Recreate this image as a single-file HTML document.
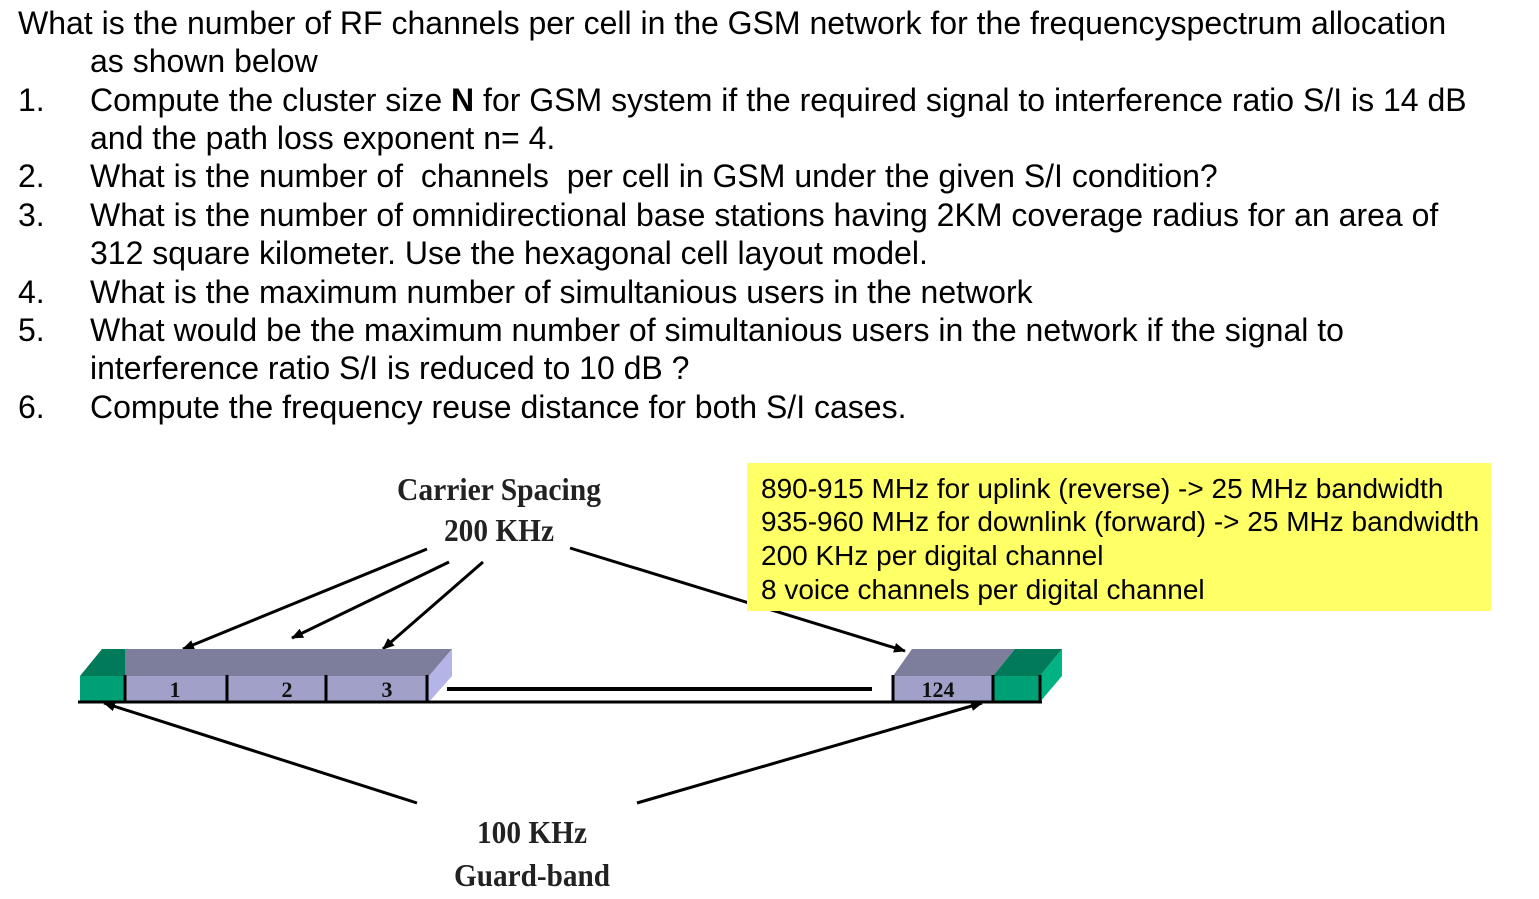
<!DOCTYPE html>
<html><head><meta charset="utf-8"><style>
html,body{margin:0;padding:0;background:#fff;width:1539px;height:899px;overflow:hidden}
.t{position:absolute;font-family:"Liberation Sans",Arial,sans-serif;font-size:32px;color:#000;white-space:nowrap;line-height:38.4px}
</style></head><body>
<div class="t" style="left:18px;top:4px">What is the number of RF channels per cell in the GSM network for the frequencyspectrum allocation</div>
<div class="t" style="left:90px;top:42px">as shown below</div>
<div class="t" style="left:18px;top:81px">1.</div><div class="t" style="left:90px;top:81px">Compute the cluster size <b>N</b> for GSM system if the required signal to interference ratio S/I is 14 dB</div>
<div class="t" style="left:90px;top:119px">and the path loss exponent n= 4.</div>
<div class="t" style="left:18px;top:157px">2.</div><div class="t" style="left:90px;top:157px">What is the number of&nbsp; channels&nbsp; per cell in GSM under the given S/I condition?</div>
<div class="t" style="left:18px;top:196px">3.</div><div class="t" style="left:90px;top:196px">What is the number of omnidirectional base stations having 2KM coverage radius for an area of</div>
<div class="t" style="left:90px;top:234px">312 square kilometer. Use the hexagonal cell layout model.</div>
<div class="t" style="left:18px;top:273px">4.</div><div class="t" style="left:90px;top:273px">What is the maximum number of simultanious users in the network</div>
<div class="t" style="left:18px;top:311px">5.</div><div class="t" style="left:90px;top:311px">What would be the maximum number of simultanious users in the network if the signal to</div>
<div class="t" style="left:90px;top:349px">interference ratio S/I is reduced to 10 dB ?</div>
<div class="t" style="left:18px;top:388px">6.</div><div class="t" style="left:90px;top:388px">Compute the frequency reuse distance for both S/I cases.</div>

<svg width="1539" height="899" style="position:absolute;left:0;top:0">
<defs><marker id="a" markerWidth="12" markerHeight="10" refX="11" refY="5" orient="auto" markerUnits="userSpaceOnUse"><path d="M0,0 L12,5 L0,10 Z" fill="#000"/></marker></defs>
<g font-family="Liberation Serif,serif" font-weight="bold" font-size="32" fill="#222" text-anchor="middle">
<text x="499" y="500" textLength="204" lengthAdjust="spacingAndGlyphs">Carrier Spacing</text>
<text x="499" y="541" textLength="110" lengthAdjust="spacingAndGlyphs">200 KHz</text>
<text x="532" y="843" textLength="110" lengthAdjust="spacingAndGlyphs">100 KHz</text>
<text x="532" y="886" textLength="156" lengthAdjust="spacingAndGlyphs">Guard-band</text>
</g>
<g stroke="#000" stroke-width="3" fill="none">
<line x1="427" y1="549" x2="183" y2="649" marker-end="url(#a)"/>
<line x1="449" y1="562" x2="292" y2="638" marker-end="url(#a)"/>
<line x1="483" y1="562" x2="383" y2="649" marker-end="url(#a)"/>
<line x1="570" y1="548" x2="905" y2="651" marker-end="url(#a)"/>
<line x1="417" y1="803" x2="104" y2="703" marker-end="url(#a)"/>
<line x1="637" y1="803" x2="982" y2="703" marker-end="url(#a)"/>
</g>
<polygon points="80,676 102,649 125,649 125,676" fill="#007a58"/>
<polygon points="125,676 125,649 452,649 429,676" fill="#7d7d9c"/>
<polygon points="429,676 452,649 452,676 429,702" fill="#b4b4e6"/>
<rect x="80" y="676" width="45" height="26" fill="#00a077"/>
<rect x="125" y="676" width="304" height="26" fill="#a0a0c8"/>
<g stroke="#000" stroke-width="3"><line x1="125" y1="675" x2="125" y2="702"/><line x1="227" y1="675" x2="227" y2="702"/><line x1="326" y1="675" x2="326" y2="702"/><line x1="427" y1="675" x2="427" y2="702"/></g>
<polygon points="893,676 912,649 1015,649 993,676" fill="#7d7d9c"/>
<polygon points="993,676 1015,649 1062,649 1040,676" fill="#007a58"/>
<polygon points="1040,676 1062,649 1062,676 1040,702" fill="#00b383"/>
<rect x="893" y="676" width="100" height="26" fill="#a0a0c8"/>
<rect x="993" y="676" width="47" height="26" fill="#00a077"/>
<g stroke="#000" stroke-width="3"><line x1="893" y1="675" x2="893" y2="702"/><line x1="993" y1="675" x2="993" y2="702"/><line x1="1040" y1="675" x2="1040" y2="702"/></g>
<line x1="447" y1="689" x2="872" y2="689" stroke="#000" stroke-width="4"/>
<line x1="78" y1="702" x2="1042" y2="702" stroke="#000" stroke-width="3"/>
<g font-family="Liberation Serif,serif" font-weight="bold" font-size="22" fill="#111" text-anchor="middle">
<text x="175" y="697">1</text><text x="287" y="697">2</text><text x="387" y="697">3</text><text x="938" y="697">124</text>
</g>
<rect x="747" y="463" width="744" height="148" fill="#ffff66"/>
<g font-family="Liberation Sans,Arial,sans-serif" font-size="28" fill="#000">
<text x="761" y="498">890-915 MHz for uplink (reverse) -&gt; 25 MHz bandwidth</text>
<text x="761" y="531">935-960 MHz for downlink (forward) -&gt; 25 MHz bandwidth</text>
<text x="761" y="565">200 KHz per digital channel</text>
<text x="761" y="599">8 voice channels per digital channel</text>
</g>
</svg>
</body></html>
